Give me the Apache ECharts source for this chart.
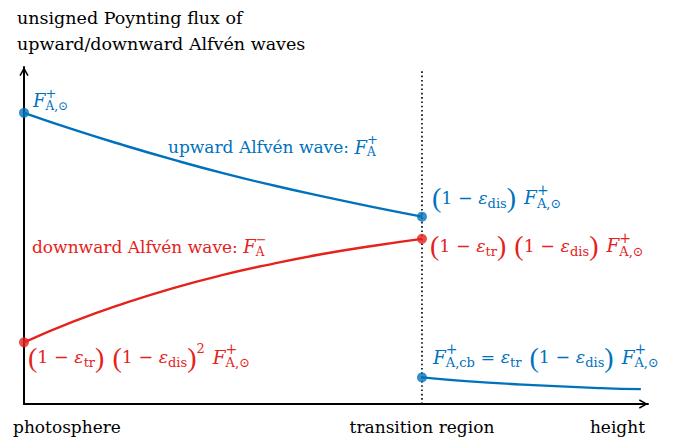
<!DOCTYPE html>
<html><head><meta charset="utf-8">
<script src="https://cdn.jsdelivr.net/npm/echarts@6/dist/echarts.min.js"></script>
<style>html,body{margin:0;padding:0;background:#fff}#c{width:681px;height:446px}</style>
</head><body><div id="c"></div>
<script>
// ---- data (schematic values) ----
const xInner = [0, 12.5, 25, 37.5, 50, 62.5, 75, 87.5, 100];
const upwardFlux = [86.4, 81.4, 76.8, 72.5, 68.5, 64.9, 61.6, 58.5, 55.6];
const downwardFlux = [18.3, 24.5, 29.8, 34.4, 38.3, 41.6, 44.5, 46.9, 49.0];
const xCorona = [100, 111, 128, 145, 155];
const coronaFlux = [7.9, 6.8, 5.6, 4.7, 4.4];
const transitionX = 100;
const xMax = 156.8;
const yMax = 100;
const dottedTop = 99.4;
const tickLabels = ['photosphere', 'transition region', 'height'];
const titleLines = ['unsigned Poynting flux of', 'upward/downward Alfvén waves'];

const FONT = 'DejaVu Serif';
const BLUE = '#0072BD', RED = '#E5221B';
const chart = echarts.init(document.getElementById('c'), null, {renderer: 'svg'});

const arrow = 'path://M5,0 L10,9 L8.5,9.7 L5,3.2 L1.5,9.7 L0,9 Z';
function axisCommon(max) {
  return {
    type: 'value', min: 0, max: max,
    axisLine: {show: true, symbol: ['none', arrow], symbolSize: [10, 9], symbolOffset: [0, -4.5],
      lineStyle: {color: '#000', width: 2}},
    axisTick: {show: false}, axisLabel: {show: false}, splitLine: {show: false}
  };
}

const upData = xInner.map((x, i) => [x, upwardFlux[i]]);
const downData = xInner.map((x, i) => [x, downwardFlux[i]]);
const corData = xCorona.map((x, i) => [x, coronaFlux[i]]);

chart.setOption({
  animation: false,
  title: {text: titleLines.join('\n'), left: 12, top: 0,
    textStyle: {fontFamily: FONT, fontSize: 17.5, fontWeight: 'normal', color: '#000', lineHeight: 26}},
  grid: {left: 24, right: 33, top: 67, bottom: 42},
  xAxis: axisCommon(xMax),
  yAxis: axisCommon(yMax),
  series: [
    {type: 'line', data: [[transitionX, 0], [transitionX, dottedTop]], symbol: 'none', silent: true,
      lineStyle: {color: '#000', width: 1.6, type: [1.6, 2.7]}, z: 1},
    {type: 'line', data: upData, smooth: true, symbol: 'none', lineStyle: {color: BLUE, width: 2.4}, z: 2},
    {type: 'line', data: downData, smooth: true, symbol: 'none', lineStyle: {color: RED, width: 2.4}, z: 2},
    {type: 'line', data: corData, smooth: true, symbol: 'none', lineStyle: {color: BLUE, width: 2.4}, z: 2},
    {type: 'scatter', symbolSize: 10, itemStyle: {color: BLUE}, z: 3,
      data: [upData[0], upData[upData.length - 1], corData[0]]},
    {type: 'scatter', symbolSize: 10, itemStyle: {color: RED}, z: 3,
      data: [downData[0], downData[downData.length - 1]]}
  ]
});

function richFor(color, M) {
  const b = {fontFamily: FONT, fill: color};
  return {
    n: Object.assign({}, b, {fontSize: M}),
    g: Object.assign({}, b, {fontSize: M, width: Math.round(M * 0.45)}),
    t: Object.assign({}, b, {fontSize: M}),
    i: Object.assign({}, b, {fontSize: M + 1, fontStyle: 'italic'}),
    e: Object.assign({}, b, {fontSize: M, fontStyle: 'italic'}),
    sb: Object.assign({}, b, {fontSize: Math.round(M * 0.72), padding: [Math.round(M * 0.6), 0, 0, 0]}),
    sp0: Object.assign({}, b, {fontSize: Math.round(M * 0.78), padding: [0, 0, Math.round(M * 0.9), 0], width: 0}),
    sp: Object.assign({}, b, {fontSize: Math.round(M * 0.75), padding: [0, 0, Math.round(M * 0.95), 0]}),
    pl: {fontFamily: 'Liberation Serif', fill: color, fontSize: Math.round(M * 1.6)}
  };
}
function rt(segs) { return segs.map(s => '{' + s[0] + '|' + s[1] + '}').join(''); }

const FAsun = [['i', 'F'], ['sp0', '+'], ['sb', 'A,⊙']];
const oneMinusDis = [['pl', '('], ['n', '1 − '], ['e', 'ε'], ['sb', 'dis'], ['pl', ')']];
const oneMinusTr = [['pl', '('], ['n', '1 − '], ['e', 'ε'], ['sb', 'tr'], ['pl', ')']];
const sp = [['g', ' ']];

const labels = [
  {color: BLUE, M: 17, anchor: upData[0], dx: 9, dy: -12, segs: FAsun},
  {color: BLUE, M: 17, anchor: upData[4], dx: -55, dy: -26,
    segs: [['t', 'upward Alfvén wave: '], ['i', 'F'], ['sp0', '+'], ['sb', 'A']]},
  {color: BLUE, M: 17.5, anchor: upData[upData.length - 1], dx: 10, dy: -19,
    segs: [].concat(oneMinusDis, sp, FAsun)},
  {color: RED, M: 17, anchor: downData[4], dx: -191, dy: -28,
    segs: [['t', 'downward Alfvén wave: '], ['i', 'F'], ['sp0', '−'], ['sb', 'A']]},
  {color: RED, M: 17.5, anchor: downData[downData.length - 1], dx: 8, dy: 7,
    segs: [].concat(oneMinusTr, sp, oneMinusDis, sp, FAsun)},
  {color: RED, M: 17.5, anchor: downData[0], dx: 4, dy: 15,
    segs: [].concat(oneMinusTr, sp, oneMinusDis, [['sp', '2']], sp, FAsun)},
  {color: BLUE, M: 17.5, anchor: corData[0], dx: 11, dy: -20,
    segs: [['i', 'F'], ['sp0', '+'], ['sb', 'A,cb'], ['n', ' = '], ['e', 'ε'], ['sb', 'tr'], ['g', ' ']].concat(oneMinusDis, sp, FAsun)}
];

const graphics = labels.map(L => {
  const p = chart.convertToPixel({gridIndex: 0}, L.anchor);
  return {type: 'text', x: p[0] + L.dx, y: p[1] + L.dy, silent: true,
    style: {text: rt(L.segs), rich: richFor(L.color, L.M), fill: L.color, align: 'left', verticalAlign: 'middle'}};
});

const tickAnchors = [
  {x: 0, dx: -11, align: 'left'},
  {x: transitionX, dx: 0, align: 'center'},
  {x: xMax, dx: -3, align: 'right'}
];
tickAnchors.forEach((a, k) => {
  const p = chart.convertToPixel({gridIndex: 0}, [a.x, 0]);
  graphics.push({type: 'text', x: p[0] + a.dx, y: p[1] + 23, silent: true,
    style: {text: tickLabels[k], fontFamily: FONT, fontSize: 17, fill: '#000', align: a.align, verticalAlign: 'middle'}});
});

chart.setOption({graphic: graphics});
</script>
</body></html>
